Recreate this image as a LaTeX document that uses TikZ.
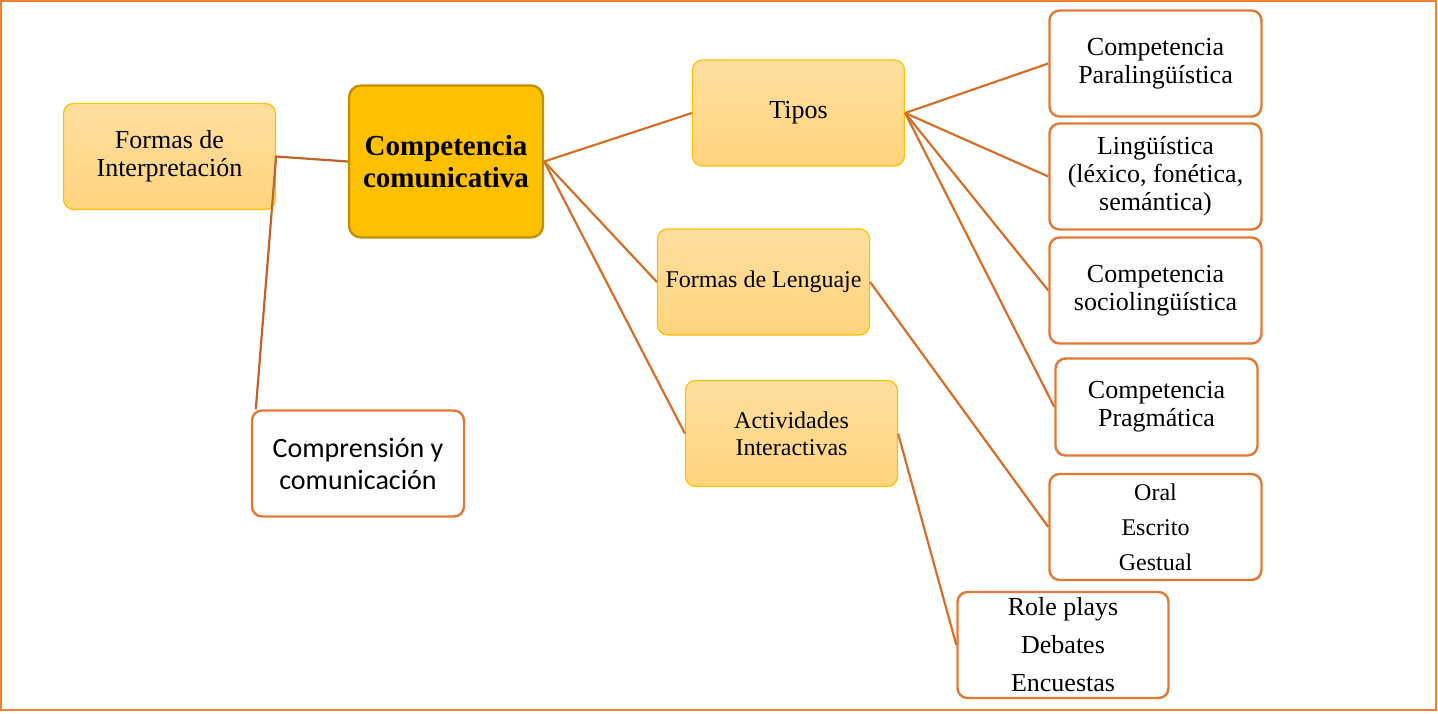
\documentclass[tikz,border=0pt]{standalone}
\usepackage{fontspec}
\setmainfont{Liberation Serif}
\newfontfamily\calibrifont{Carlito}
\usepackage{xcolor}
\definecolor{gold}{HTML}{FFC000}
\definecolor{darkgold}{HTML}{BF9000}
\definecolor{lightgoldtop}{HTML}{FFDE9E}
\definecolor{lightgoldbot}{HTML}{FFD47E}
\definecolor{boxorange}{HTML}{E27833}
\definecolor{lineorange}{HTML}{D66E28}
\definecolor{linebrown}{HTML}{C0622A}
\definecolor{frameorange}{HTML}{F4812F}

\begin{document}
\begin{tikzpicture}[x=0.5pt,y=-0.5pt,
  softbox/.style={draw=gold,line width=0.6pt,rounded corners=5pt,top color=lightgoldtop,bottom color=lightgoldbot,align=center,inner sep=2pt},
  whitebox/.style={draw=boxorange,line width=1.2pt,rounded corners=5pt,fill=white,align=center,inner sep=2pt},
  link/.style={draw=lineorange,line width=1.1pt}]
\useasboundingbox (0,0) rectangle (1438,713);
\draw[frameorange,line width=1pt] (0.5,0.5) rectangle (1436,710);
\node[softbox,minimum width=106pt,minimum height=53pt,font=\fontsize{13}{14}\selectfont] (interp) at (169.5,156.5) {Formas de\\Interpretación};
\node[draw=darkgold,line width=1.2pt,fill=gold,rounded corners=6pt,align=center,minimum width=97pt,minimum height=76pt,font=\fontsize{14.5}{16}\selectfont\bfseries] (cc) at (446,161.5) {Competencia\\comunicativa};
\node[softbox,minimum width=106pt,minimum height=53pt,font=\fontsize{13}{14}\selectfont] (tipos) at (798.5,113) {Tipos};
\node[softbox,minimum width=106pt,minimum height=53pt,font=\fontsize{12}{14}\selectfont] (lenguaje) at (763.5,282) {Formas de Lenguaje};
\node[softbox,minimum width=106pt,minimum height=53pt,font=\fontsize{12}{13.5}\selectfont] (activ) at (791.5,433.5) {Actividades\\Interactivas};
\node[whitebox,minimum width=106pt,minimum height=53pt,font=\calibrifont\fontsize{14}{16}\selectfont] (compr) at (358,463.5) {Comprensión y\\comunicación};
\node[whitebox,minimum width=106pt,minimum height=53pt,font=\fontsize{13}{14}\selectfont] (para) at (1155.5,63.5) {Competencia\\Paralingüística};
\node[whitebox,minimum width=106pt,minimum height=53pt,font=\fontsize{13}{14}\selectfont] (ling) at (1155.5,176.5) {Lingüística\\(léxico, fonética,\\semántica)};
\node[whitebox,minimum width=106pt,minimum height=53pt,font=\fontsize{13}{14}\selectfont] (socio) at (1155.5,290.5) {Competencia\\sociolingüística};
\node[whitebox,minimum width=101pt,minimum height=48.5pt,font=\fontsize{13}{14}\selectfont] (prag) at (1156.5,407) {Competencia\\Pragmática};
\node[whitebox,minimum width=106pt,minimum height=53pt,font=\fontsize{12}{17.5}\selectfont] (oral) at (1155.5,527) {Oral\\Escrito\\Gestual};
\node[whitebox,minimum width=105.5pt,minimum height=53pt,font=\fontsize{13}{19}\selectfont] (role) at (1063,645) {Role plays\\Debates\\Encuestas};
\draw[link,draw=linebrown] (cc.west) -- (interp.east) -- ([xshift=2.5pt]compr.north west);
\draw[link] (cc.east) -- (tipos.west);
\draw[link] (cc.east) -- (lenguaje.west);
\draw[link] (cc.east) -- (activ.west);
\draw[link] (tipos.east) -- (para.west);
\draw[link] (tipos.east) -- (ling.west);
\draw[link] (tipos.east) -- (socio.west);
\draw[link] (tipos.east) -- (prag.west);
\draw[link] (lenguaje.east) -- (oral.west);
\draw[link] (activ.east) -- (role.west);
\end{tikzpicture}
\end{document}
